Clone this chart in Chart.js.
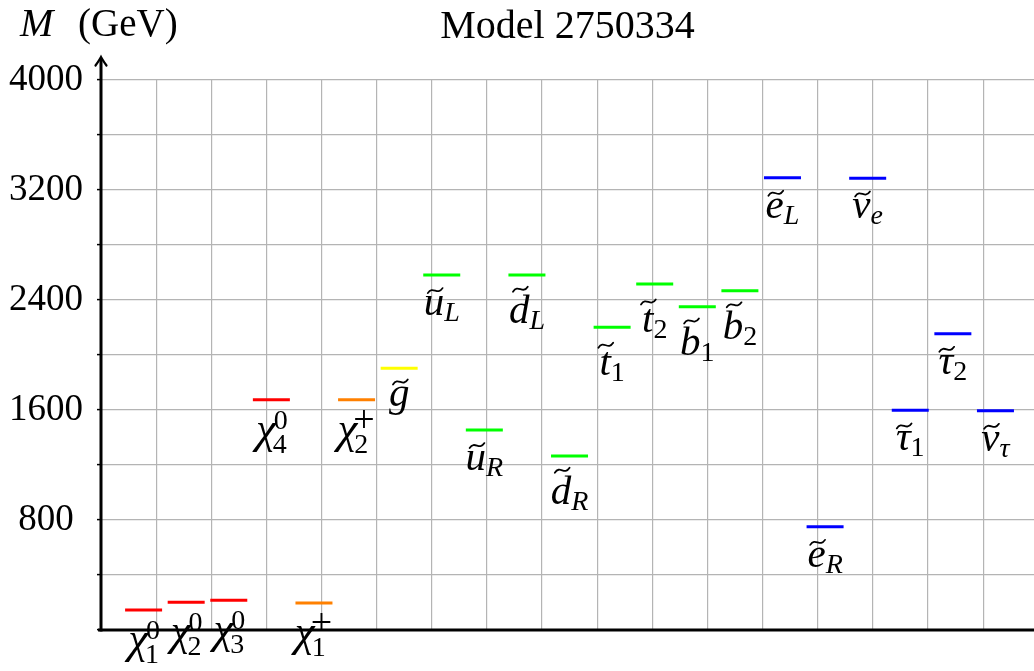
<!DOCTYPE html>
<html>
<head>
<meta charset="utf-8">
<script src="https://cdn.jsdelivr.net/npm/chart.js@4.4.1/dist/chart.umd.min.js"></script>
<style>
html,body{margin:0;padding:0;background:#fff;}
#wrap{width:1034px;height:671px;}
canvas{display:block;}
</style>
</head>
<body>
<div id="wrap"><canvas id="c" width="1034" height="671"></canvas></div>
<script>
// ---------------- data ----------------
const chartTitle = 'Model 2750334';
const yAxisSymbol = 'M';
const yAxisUnit = '(GeV)';

// particle label parts (in plotting order)
const particleBase = ['χ','χ','χ','χ','χ','χ','g','u','u','d','d','t','t','b','b','e','e','ν','τ','τ','ν'];
const particleSub  = ['1','2','3','4','1','2','','L','R','L','R','1','2','1','2','L','R','e','1','2','τ'];
const particleSup  = ['0','0','0','0','+','+','','','','','','','','','','','','','','',''];
const particleGroup = ['neutralino','neutralino','neutralino','neutralino','chargino','chargino','gluino',
  'squark','squark','squark','squark','squark','squark','squark','squark',
  'slepton','slepton','slepton','slepton','slepton','slepton'];
// masses in GeV
const massGeV = [145, 201, 216, 1675, 196, 1675, 1903, 2582, 1455, 2582, 1265, 2201, 2516, 2351, 2468,
  3290, 751, 3285, 1598, 2155, 1595];

const yMin = 0, yMax = 4000, yStep = 400, yLabelEvery = 800;

// ---------------- styles ----------------
const groupColors = {neutralino:'#ff0000', chargino:'#ff8000', gluino:'#ffff00', squark:'#00ff00', slepton:'#0000ff'};
const FONT = '"Liberation Serif", "Times New Roman", serif';
const GRID_COLOR = '#b4b4b4';
const X_MAX = 21.905;     // slots visible
const GRID_STEP = 1.2944; // vertical grid spacing in slots

const points = massGeV.map((m, i) => ({x: i + 1, y: m}));
const colors = particleGroup.map(g => groupColors[g]);

function drawTilde(ctx, cx, top, w, h) {
  const x0 = cx - w / 2;
  ctx.save();
  ctx.lineWidth = 1.8;
  ctx.strokeStyle = '#000';
  ctx.beginPath();
  ctx.moveTo(x0, top + h);
  ctx.bezierCurveTo(x0 + w * 0.35, top - h * 0.6, x0 + w * 0.65, top + h * 1.6, x0 + w, top);
  ctx.stroke();
  ctx.restore();
}

function drawParticleLabel(ctx, cx, lineY, i) {
  const base = particleBase[i], sub = particleSub[i], sup = particleSup[i];
  const grp = particleGroup[i];
  const tilde = grp !== 'neutralino' && grp !== 'chargino';
  const FS = base === 'χ' ? 45 : 41, SS = 28;
  const isLetter = s => /[A-Za-z\u03b1-\u03c9]/.test(s);
  ctx.font = `italic ${FS}px ${FONT}`;
  const wB = ctx.measureText(base).width;
  const subFont = `${isLetter(sub) ? 'italic ' : ''}${SS}px ${FONT}`;
  const supSize = sup === '+' ? 38 : SS;
  const supFont = `${isLetter(sup) ? 'italic ' : ''}${supSize}px ${FONT}`;
  ctx.font = subFont; const wSub = sub ? ctx.measureText(sub).width : 0;
  ctx.font = supFont; const wSup = sup ? ctx.measureText(sup).width : 0;
  const tuck = base === 'χ' ? -3 : 0;
  const total = wB + tuck + Math.max(wSub, wSup);
  const bx = cx - total / 2;
  const asc = 'db'.includes(base) ? 0.69 : (base === 't' ? 0.6 : 0.46);
  let off;
  if (!tilde) off = 43;
  else if ('dbt'.includes(base)) off = 48;
  else if (base === 'g') off = 38;
  else off = 40;
  const by = lineY + off;
  ctx.fillStyle = '#000';
  ctx.textAlign = 'left';
  ctx.textBaseline = 'alphabetic';
  ctx.font = `italic ${FS}px ${FONT}`;
  ctx.fillText(base, bx, by);
  if (tilde) {
    drawTilde(ctx, bx + wB * 0.56, by - asc * FS - 8, 0.36 * FS, 5);
  }
  if (sub) {
    ctx.font = subFont;
    ctx.fillText(sub, bx + wB + tuck, by + (sup ? 10 : 6));
  }
  if (sup) {
    ctx.font = supFont;
    ctx.fillText(sup, bx + wB + tuck + (sup === '+' ? -1 : 1), by - (sup === '+' ? 11 : 14));
  }
}

const decor = {
  id: 'decor',
  afterDraw(chart) {
    const ctx = chart.ctx;
    const {left, right, top, bottom} = chart.chartArea;
    const xs = chart.scales.x, ys = chart.scales.y;
    ctx.save();
    // axes
    ctx.strokeStyle = '#000';
    ctx.lineWidth = 3;
    ctx.beginPath();
    ctx.moveTo(left - 3, bottom);
    ctx.lineTo(chart.width, bottom);
    ctx.stroke();
    const tipY = top - 23;
    ctx.beginPath();
    ctx.moveTo(left, bottom + 1.5);
    ctx.lineTo(left, tipY + 1);
    ctx.stroke();
    ctx.lineWidth = 2.2;
    ctx.lineCap = 'round';
    ctx.beginPath();
    ctx.moveTo(left - 5.5, tipY + 8.5);
    ctx.quadraticCurveTo(left - 1.5, tipY + 3, left, tipY);
    ctx.quadraticCurveTo(left + 1.5, tipY + 3, left + 5.5, tipY + 8.5);
    ctx.stroke();
    // title
    ctx.fillStyle = '#000';
    ctx.textBaseline = 'alphabetic';
    ctx.textAlign = 'center';
    ctx.font = `40px ${FONT}`;
    ctx.fillText(chartTitle, (left + right) / 2, 38);
    // y-axis title
    ctx.textAlign = 'left';
    ctx.font = `italic 40px ${FONT}`;
    ctx.fillText(yAxisSymbol, 20, 36);
    ctx.font = `39px ${FONT}`;
    ctx.fillText(yAxisUnit, 78, 36);
    // particle labels
    points.forEach((p, i) => {
      drawParticleLabel(ctx, xs.getPixelForValue(p.x), ys.getPixelForValue(p.y), i);
    });
    ctx.restore();
  }
};

new Chart(document.getElementById('c'), {
  type: 'scatter',
  data: {
    datasets: [{
      data: points,
      pointStyle: 'line',
      pointRadius: 18.5,
      pointHoverRadius: 18.5,
      pointBorderWidth: 3,
      pointHoverBorderWidth: 3,
      pointBorderColor: colors,
      pointBackgroundColor: colors,
      showLine: false
    }]
  },
  options: {
    responsive: false,
    animation: false,
    events: [],
    layout: {autoPadding: false, padding: {top: 80, right: 0, bottom: 41, left: 0}},
    plugins: {legend: {display: false}, tooltip: {enabled: false}, title: {display: false}},
    scales: {
      x: {
        type: 'linear', min: 0, max: X_MAX,
        border: {display: false},
        grid: {color: GRID_COLOR, lineWidth: 1.2, drawTicks: false},
        ticks: {display: false},
        afterBuildTicks: s => {
          const t = [];
          for (let k = 1; k * GRID_STEP < X_MAX - 0.01; k++) t.push({value: k * GRID_STEP});
          s.ticks = t;
        },
        afterFit: s => { s.height = 0; }
      },
      y: {
        type: 'linear', min: yMin, max: yMax,
        border: {display: false},
        grid: {
          color: c => (c.tick && c.tick.value === 0) ? 'rgba(0,0,0,0)' : GRID_COLOR,
          lineWidth: 1.2, tickLength: 4, tickColor: '#000', tickWidth: 1.5
        },
        ticks: {
          stepSize: yStep, autoSkip: false,
          callback: v => (v > 0 && v % yLabelEvery === 0) ? String(v) : '',
          font: {family: FONT, size: 37}, color: '#000',
          crossAlign: 'center', padding: 14
        },
        afterFit: s => { s.width = 101; }
      }
    }
  },
  plugins: [decor]
});
</script>
</body>
</html>
